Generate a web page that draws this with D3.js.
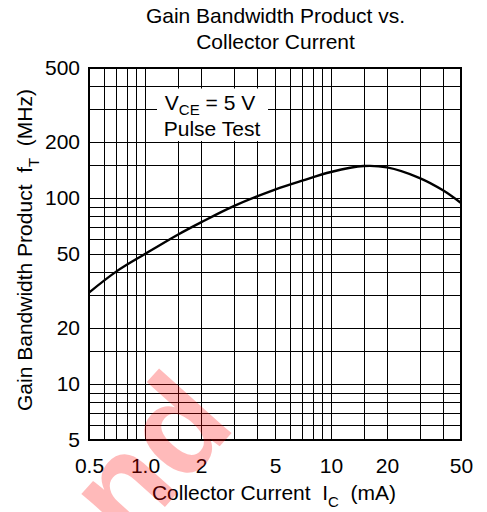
<!DOCTYPE html>
<html>
<head>
<meta charset="utf-8">
<script src="https://cdn.jsdelivr.net/npm/d3@7"></script>
<style>
  body { margin: 0; background: #fff; }
  svg text { font-family: Arial, "Liberation Sans", Helvetica, sans-serif; fill: #000; }
</style>
</head>
<body>
<svg id="chart" width="487" height="512"></svg>
<script>
// collector current (mA) and gain bandwidth product (MHz)
const current = [0.5, 0.7, 1.0, 1.5, 2, 3, 5, 7, 10, 15, 20, 30, 40, 50];
const fT = [31, 40.2, 50, 63.5, 74, 90.5, 111, 124, 138, 148.5, 146, 128, 110, 94];

// grid lines and labelled ticks
const gridX = [0.5, 0.6, 0.7, 0.8, 0.9, 1, 1.5, 2, 3, 4, 5, 6, 7, 8, 9, 10, 15, 20, 30, 40, 50];
const gridY = [5, 6, 7, 8, 9, 10, 15, 20, 30, 40, 50, 60, 70, 80, 90, 100, 150, 200, 300, 400, 500];
const labelX = [0.5, 1, 2, 5, 10, 20, 50];
const labelXText = ['0.5', '1.0', '2', '5', '10', '20', '50'];
const labelY = [5, 10, 20, 50, 100, 200, 500];

const svg = d3.select('#chart');
const plotLeft = 89, plotRight = 461, plotTop = 68, plotBottom = 440;
const fontSize = 21;

const x = d3.scaleLog().domain([0.5, 50]).range([plotLeft, plotRight]);
const y = d3.scaleLog().domain([5, 500]).range([plotBottom, plotTop]);

// title
const title = svg.append('text')
  .attr('text-anchor', 'middle')
  .attr('font-size', fontSize);
title.append('tspan').attr('x', 275.5).attr('y', 23).text('Gain Bandwidth Product vs.');
title.append('tspan').attr('x', 275.5).attr('y', 49).text('Collector Current');

// grid via axes
const xAxis = d3.axisBottom(x)
  .tickValues(gridX)
  .tickSize(-(plotBottom - plotTop))
  .tickPadding(18)
  .tickFormat((d) => {
    const i = labelX.indexOf(d);
    return i >= 0 ? labelXText[i] : '';
  });

const yAxis = d3.axisLeft(y)
  .tickValues(gridY)
  .tickSize(-(plotRight - plotLeft))
  .tickPadding(9)
  .tickFormat((d) => (labelY.includes(d) ? String(d) : ''));

const gx = svg.append('g')
  .attr('transform', `translate(0, ${plotBottom})`)
  .call(xAxis);
const gy = svg.append('g')
  .attr('transform', `translate(${plotLeft}, 0)`)
  .call(yAxis);

[gx, gy].forEach((g) => {
  g.select('.domain').remove();
  g.selectAll('line')
    .attr('stroke', '#000')
    .attr('stroke-width', 1)
    .attr('shape-rendering', 'crispEdges');
  g.selectAll('text')
    .attr('font-size', fontSize)
    .attr('fill', '#000')
    .attr('font-family', 'Arial, "Liberation Sans", Helvetica, sans-serif');
});

// frame
svg.append('rect')
  .attr('x', plotLeft)
  .attr('y', plotTop)
  .attr('width', plotRight - plotLeft)
  .attr('height', plotBottom - plotTop)
  .attr('fill', 'none')
  .attr('stroke', '#000')
  .attr('stroke-width', 1.3)
  .attr('shape-rendering', 'crispEdges');

// curve
const line = d3.line()
  .x((d) => x(d[0]))
  .y((d) => y(d[1]))
  .curve(d3.curveCatmullRom.alpha(0.5));

svg.append('path')
  .datum(current.map((c, i) => [c, fT[i]]))
  .attr('d', line)
  .attr('fill', 'none')
  .attr('stroke', '#000')
  .attr('stroke-width', 2.4);

// test condition box
svg.append('rect')
  .attr('x', 157)
  .attr('y', 88.5)
  .attr('width', 111)
  .attr('height', 52.5)
  .attr('fill', '#fff');

const note = svg.append('text')
  .attr('text-anchor', 'middle')
  .attr('font-size', fontSize);
const l1 = note.append('tspan').attr('x', 210).attr('y', 110);
l1.append('tspan').text('V');
l1.append('tspan').attr('font-size', 15).attr('dy', 4.5).text('CE');
l1.append('tspan').attr('dy', -4.5).text(' = 5 V');
note.append('tspan').attr('x', 212).attr('y', 135.5).text('Pulse Test');

// axis titles
const xt = svg.append('text')
  .attr('x', 274)
  .attr('y', 500)
  .attr('text-anchor', 'middle')
  .attr('font-size', fontSize);
xt.append('tspan').text('Collector Current\u00a0\u00a0I');
xt.append('tspan').attr('font-size', 15).attr('dy', 7).text('C');
xt.append('tspan').attr('dy', -7).text('\u00a0\u00a0(mA)');

const yt = svg.append('text')
  .attr('transform', 'translate(31.5, 250) rotate(-90)')
  .attr('text-anchor', 'middle')
  .attr('font-size', fontSize);
yt.append('tspan').text('Gain Bandwidth Product\u00a0\u00a0f');
yt.append('tspan').attr('font-size', 15).attr('dy', 7).text('T');
yt.append('tspan').attr('dy', -7).text('\u00a0\u00a0(MHz)');

// watermark
svg.append('text')
  .attr('transform', 'translate(128, 548) rotate(-48)')
  .attr('font-size', 134)
  .attr('font-weight', 'bold')
  .style('fill', 'rgba(255,0,0,0.27)')
  .text('nd');
</script>
</body>
</html>
